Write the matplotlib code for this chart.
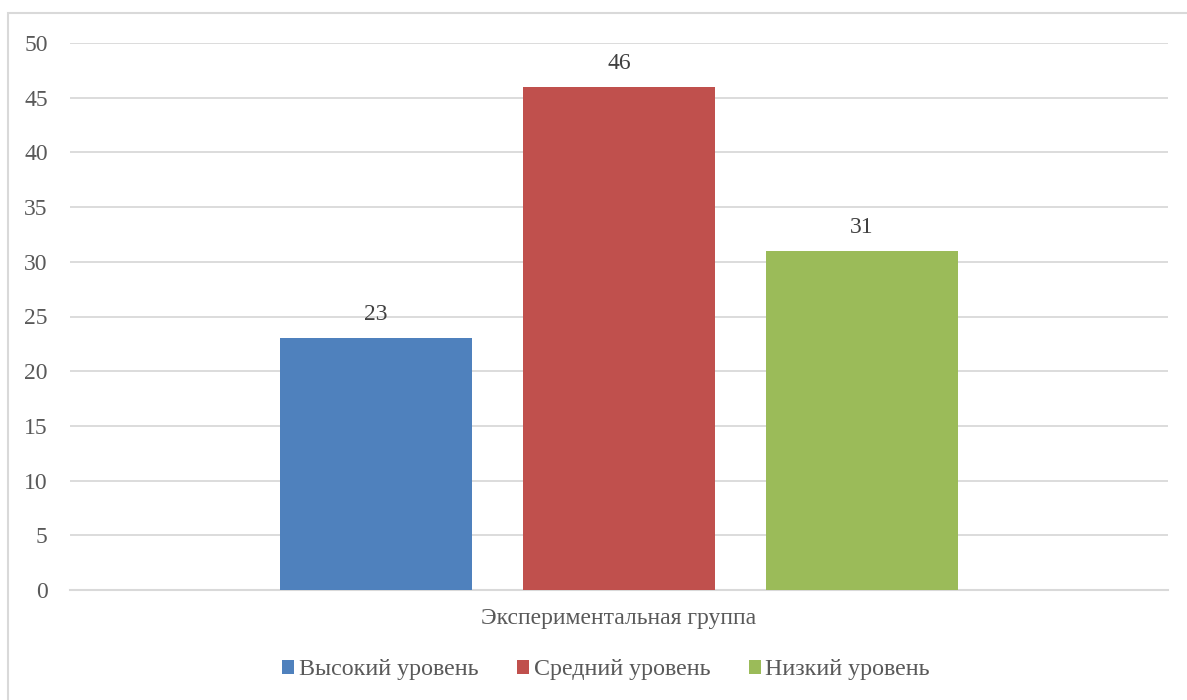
import matplotlib.pyplot as plt
from matplotlib.patches import Rectangle

# Data
group_label = "Экспериментальная группа"
levels = ["Высокий уровень", "Средний уровень", "Низкий уровень"]
values = [23, 46, 31]
colors = ["#4F81BD", "#C0504D", "#9BBB59"]
y_ticks = [0, 5, 10, 15, 20, 25, 30, 35, 40, 45, 50]

plt.rcParams["font.family"] = ["Liberation Serif", "DejaVu Serif"]
text_color = "#595959"
grid_color = "#d9d9d9"

fig = plt.figure(figsize=(11.87, 7.0), dpi=100)
ax = fig.add_axes([70 / 1187, 1 - 590 / 700, 1098 / 1187, 547 / 700])

# Outer chart border (Excel style)
fig.patches.append(
    Rectangle((8 / 1187, -0.1), 1.2, 1.1 - 13 / 700,
              transform=fig.transFigure, fill=False,
              edgecolor=grid_color, linewidth=1.5)
)

positions = [-1, 0, 1]
bars = ax.bar(positions, values, width=0.79, color=colors, label=levels, zorder=3)

for pos, val in zip(positions, values):
    ax.text(pos, val + 1.2, str(val), ha="center", va="bottom",
            fontsize=17, color="#404040")

ax.set_xlim(-2.26, 2.26)
ax.set_ylim(0, 50)
ax.set_yticks(y_ticks)
ax.yaxis.grid(True, color=grid_color, linewidth=1.3, zorder=0)
ax.set_axisbelow(True)
ax.set_xticks([0])
ax.set_xticklabels([group_label])
ax.tick_params(axis="x", length=0, pad=13, labelsize=17, labelcolor=text_color)
ax.tick_params(axis="y", length=0, pad=16, labelsize=17, labelcolor=text_color)

for side in ["top", "right", "left"]:
    ax.spines[side].set_visible(False)
ax.spines["bottom"].set_color(grid_color)
ax.spines["bottom"].set_linewidth(1.5)

fig.legend(handles=bars, labels=levels, loc="center",
           bbox_to_anchor=(606 / 1187, 1 - 670 / 700), ncol=3,
           frameon=False, fontsize=17.3, labelcolor=text_color,
           handlelength=0.5, handleheight=0.5, handletextpad=0.2,
           columnspacing=1.6)

plt.savefig("out.png", dpi=100)
plt.close()
